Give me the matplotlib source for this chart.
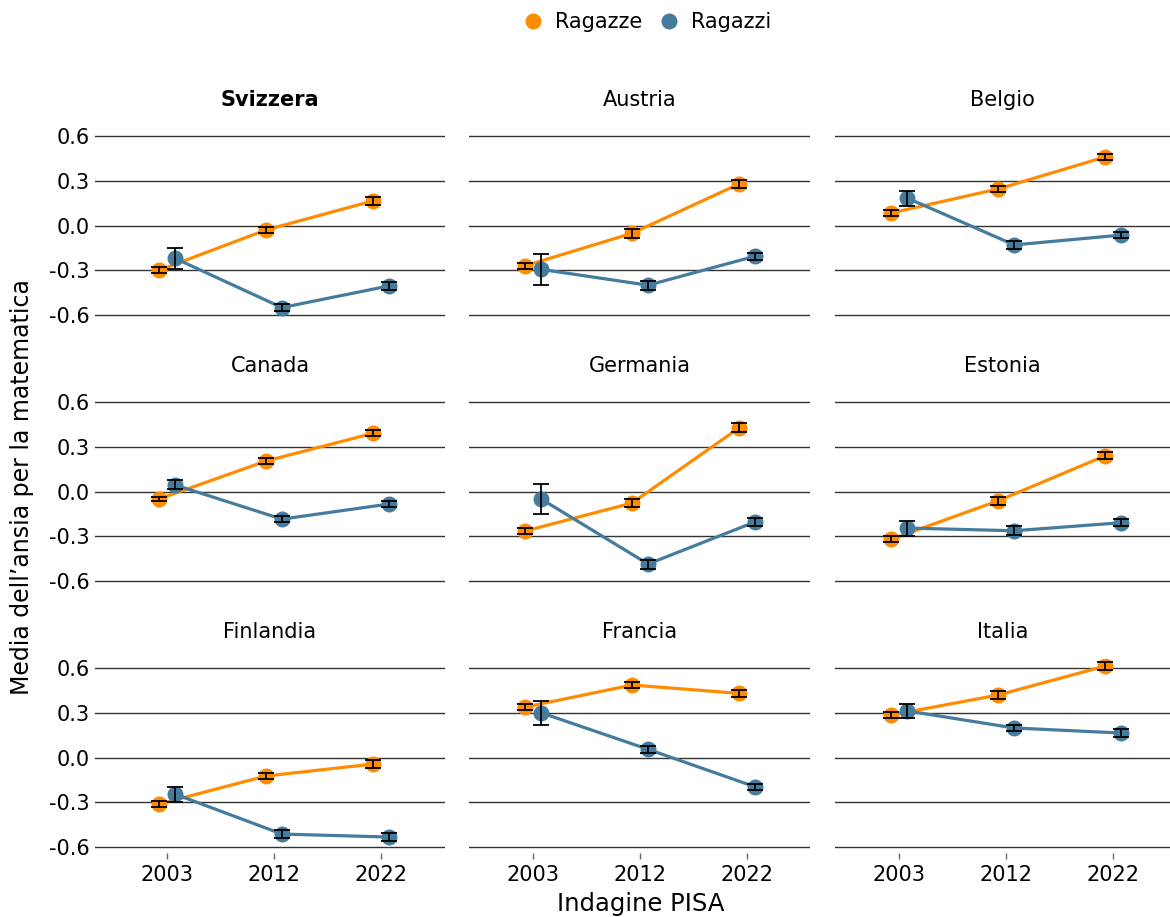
import matplotlib
matplotlib.use("Agg")
import matplotlib.pyplot as plt
from matplotlib.lines import Line2D
import numpy as np

plt.rcParams['font.family'] = ['DejaVu Sans']

# Survey waves and countries
years = ["2003", "2012", "2022"]
countries = ["Svizzera", "Austria", "Belgio",
             "Canada", "Germania", "Estonia",
             "Finlandia", "Francia", "Italia"]

# Mean mathematics anxiety index per country (2003, 2012, 2022)
ragazze = {
    "Svizzera":  [-0.30, -0.03, 0.165],
    "Austria":   [-0.27, -0.052, 0.278],
    "Belgio":    [0.084, 0.245, 0.46],
    "Canada":    [-0.05, 0.204, 0.39],
    "Germania":  [-0.265, -0.077, 0.426],
    "Estonia":   [-0.32, -0.062, 0.24],
    "Finlandia": [-0.312, -0.124, -0.044],
    "Francia":   [0.338, 0.486, 0.43],
    "Italia":    [0.285, 0.419, 0.613],
}
ragazzi = {
    "Svizzera":  [-0.22, -0.55, -0.405],
    "Austria":   [-0.294, -0.40, -0.206],
    "Belgio":    [0.184, -0.13, -0.064],
    "Canada":    [0.044, -0.185, -0.084],
    "Germania":  [-0.05, -0.486, -0.204],
    "Estonia":   [-0.245, -0.263, -0.209],
    "Finlandia": [-0.245, -0.513, -0.533],
    "Francia":   [0.30, 0.055, -0.196],
    "Italia":    [0.312, 0.198, 0.164],
}

# Standard errors (half-length of the error bars)
err_ragazze = {
    "Svizzera":  [0.02, 0.02, 0.025],
    "Austria":   [0.02, 0.03, 0.025],
    "Belgio":    [0.02, 0.02, 0.02],
    "Canada":    [0.015, 0.02, 0.02],
    "Germania":  [0.02, 0.03, 0.03],
    "Estonia":   [0.02, 0.025, 0.025],
    "Finlandia": [0.02, 0.02, 0.025],
    "Francia":   [0.02, 0.02, 0.025],
    "Italia":    [0.02, 0.025, 0.025],
}
err_ragazzi = {
    "Svizzera":  [0.07, 0.025, 0.025],
    "Austria":   [0.105, 0.03, 0.025],
    "Belgio":    [0.05, 0.025, 0.02],
    "Canada":    [0.03, 0.02, 0.02],
    "Germania":  [0.10, 0.03, 0.025],
    "Estonia":   [0.05, 0.03, 0.025],
    "Finlandia": [0.05, 0.025, 0.025],
    "Francia":   [0.08, 0.025, 0.02],
    "Italia":    [0.05, 0.02, 0.025],
}

yticks = [-0.6, -0.3, 0.0, 0.3, 0.6]
ytick_labels = ["-0.6", "-0.3", "0.0", "0.3", "0.6"]

C_F = "#FF8C00"
C_M = "#457B9D"

W, H = 1170, 917
fig = plt.figure(figsize=(W / 100, H / 100), dpi=100)

# Panel geometry in pixels: (left, right, xlim_left, xlim_right) per column
cols = [(95, 445, -0.673, 2.6), (469, 810, -0.6, 2.59), (835, 1170, -0.6, 2.53)]
row_top06 = [136, 402, 668]   # pixel y of the 0.6 line in each row
ppu = 149.2                   # pixels per unit on the y axis
y_lo, y_hi = -0.64, 0.66
dodge = 0.075

for i, name in enumerate(countries):
    r, c = divmod(i, 3)
    left, right, xl, xr = cols[c]
    top_px = row_top06[r] - (y_hi - 0.6) * ppu
    bot_px = row_top06[r] + (0.6 - y_lo) * ppu
    ax = fig.add_axes([left / W, 1 - bot_px / H, (right - left) / W, (bot_px - top_px) / H])
    ax.set_xlim(xl, xr)
    ax.set_ylim(y_lo, y_hi)
    for s in ax.spines.values():
        s.set_visible(False)
    for yv in yticks:
        ax.axhline(yv, color="#333333", lw=1.0, zorder=1)

    x = np.arange(len(years))
    for vals, errs, col, off, z in [(ragazze[name], err_ragazze[name], C_F, -dodge, 2),
                                    (ragazzi[name], err_ragazzi[name], C_M, dodge, 5)]:
        xs = x + off
        ax.plot(xs, vals, color=col, lw=2.3, zorder=z, solid_capstyle="round")
        ax.plot(xs, vals, ls="none", marker="o", ms=11.5, color=col,
                markeredgewidth=0, zorder=z + 1)
        ax.errorbar(xs, vals, yerr=errs, fmt="none", ecolor="black",
                    elinewidth=1.3, capsize=6, capthick=1.3, zorder=z + 2)

    ax.set_title(name, fontsize=15, pad=15.5,
                 fontweight="bold" if name == "Svizzera" else "normal")

    ax.set_yticks(yticks)
    if c == 0:
        ax.set_yticklabels(ytick_labels, fontsize=15)
        ax.tick_params(axis="y", length=0, pad=4)
    else:
        ax.tick_params(axis="y", length=0, labelleft=False)

    ax.set_xticks(x)
    if r == 2:
        ax.set_xticklabels(years, fontsize=15)
        ax.tick_params(axis="x", length=4.5, width=1, color="#666666", pad=4)
    else:
        ax.tick_params(axis="x", length=0, labelbottom=False)

fig.text(641 / W, 1 - 904 / H, "Indagine PISA", fontsize=17.5, ha="center", va="center")
fig.text(22 / W, 1 - 487 / H, "Media dell\u2019ansia per la matematica", fontsize=17,
         rotation=90, ha="center", va="center")

handles = [Line2D([], [], ls="none", marker="o", ms=11.5, color=C_F, markeredgewidth=0),
           Line2D([], [], ls="none", marker="o", ms=11.5, color=C_M, markeredgewidth=0)]
fig.legend(handles, ["Ragazze", "Ragazzi"], loc="center", ncol=2,
           bbox_to_anchor=(647 / W, 1 - 22 / H), frameon=False, fontsize=15,
           handlelength=1.0, handletextpad=0.56, columnspacing=0.75,
           borderpad=0, borderaxespad=0)

fig.savefig("out.png", dpi=100)
